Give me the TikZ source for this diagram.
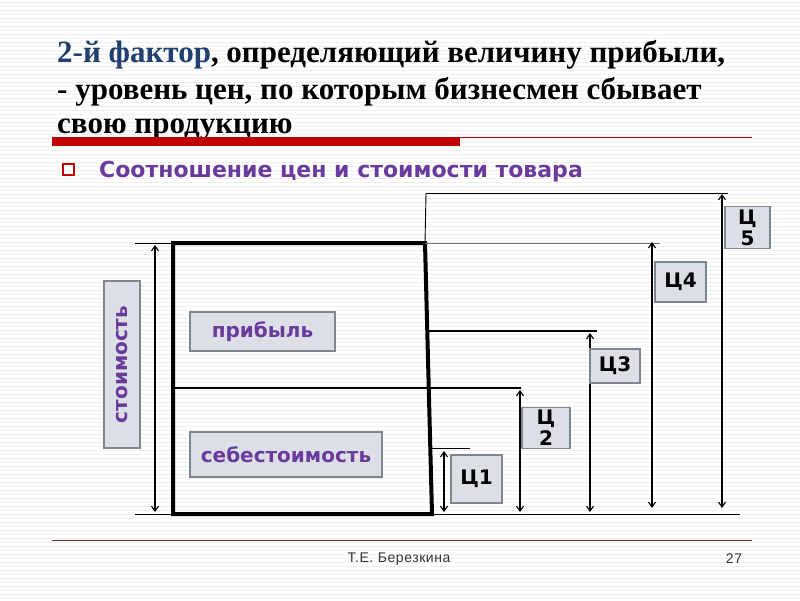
\documentclass[tikz,border=0pt]{standalone}
\usepackage{fontspec}
\setmainfont{Liberation Serif}
\newfontfamily\lbsans{DejaVu Sans}
\newfontfamily\footsans[LetterSpace=4]{Liberation Sans}
\usetikzlibrary{arrows.meta}
\definecolor{titleblue}{HTML}{1F3F6E}
\definecolor{purp}{HTML}{6A3A9C}
\definecolor{boxfill}{HTML}{DCDFE6}
\definecolor{boxline}{HTML}{7F868E}
\definecolor{redbar}{HTML}{C00000}
\definecolor{footline}{HTML}{6B2A2A}
\tikzset{
  titleline/.style={anchor=base west, inner sep=0pt, font=\fontsize{31}{34}\selectfont\bfseries},
  lbl/.style={draw=boxline, line width=1.6pt, fill=boxfill, text=purp, font=\lbsans\fontsize{20}{22}\selectfont\bfseries, inner sep=0pt, align=center},
  cbox/.style={draw=boxline, line width=1.6pt, fill=boxfill, text=black, font=\lbsans\fontsize{20}{21}\selectfont\bfseries, inner sep=0pt, align=center},
  dim/.style={line width=1.1pt, {Straight Barb[length=5pt,width=7pt]}-{Straight Barb[length=5pt,width=7pt]}},
  thin/.style={line width=0.9pt},
}
\begin{document}
\begin{tikzpicture}[x=1pt,y=-1pt]
\useasboundingbox (0,0) rectangle (800,600);
\fill[white] (0,0) rectangle (800,600);
\foreach \yy in {2,6,...,598} {\draw[black!6, line width=0.6pt] (0,\yy) -- (800,\yy);}
% title
\node[titleline] (t1) at (57,62) {\textcolor{titleblue}{2-й фактор}, определяющий величину прибыли,};
\node[titleline] (t2) at (57,99) {- уровень цен, по которым бизнесмен сбывает};
\node[titleline] (t3) at (57,133) {свою продукцию};
% red rule
\fill[redbar] (52,137) rectangle (460,146);
\draw[redbar, line width=0.8pt] (460,137.5) -- (752,137.5);
% bullet
\draw[redbar, line width=1.2pt] (63,164) rectangle (74,175) node[coordinate] (bul) {};
\node[anchor=west, inner sep=0pt, text=purp, font=\lbsans\fontsize{22}{24}\selectfont\bfseries] (sub) at (99,172) {Соотношение цен и стоимости товара};
% main frame
\coordinate (tl) at (173,243);
\coordinate (tr) at (425,243);
\coordinate (br) at (432,514);
\coordinate (bl) at (173,514);
\draw[line width=4pt] (tl) -- (tr) -- (br) -- (bl) -- cycle;
\coordinate (ml) at (173,388);
\coordinate (mr) at (432,388);
\draw[line width=2.5pt] (ml) -- (mr);
% right thin vertical
\coordinate (v5) at (426,193);
\draw[thin] (v5) -- (tr);
% level lines
\coordinate (l5e) at (728,193);
\draw[thin] (v5) -- (l5e);
\coordinate (l4e) at (660,243);
\draw[black!55, line width=0.8pt] (tr) -- (l4e);
\coordinate (l3s) at (428,331);
\coordinate (l3e) at (597,331);
\draw[line width=1.8pt] (l3s) -- (l3e);
\coordinate (l2e) at (521,388);
\draw[line width=1.8pt] (mr) -- (l2e);
\coordinate (l1s) at (431,448);
\coordinate (l1e) at (470,448);
\draw[thin] (l1s) -- (l1e);
% baseline and left extensions
\coordinate (bL) at (135,514);
\coordinate (bR) at (740,514);
\draw[thin] (bL) -- (bR);
\coordinate (tL) at (135,243);
\draw[thin] (tL) -- (tl);
% dimension arrows
\coordinate (s1) at (155,245); \coordinate (s2) at (155,512);
\draw[dim] (s1) -- (s2);
\coordinate (a1) at (444,451); \coordinate (b1) at (444,512);
\draw[dim] (a1) -- (b1);
\coordinate (a2) at (520,390); \coordinate (b2) at (520,512);
\draw[dim] (a2) -- (b2);
\coordinate (a3) at (590,333); \coordinate (b3) at (590,512);
\draw[dim] (a3) -- (b3);
\coordinate (a4) at (652,242); \coordinate (b4) at (652,508);
\draw[dim] (a4) -- (b4);
\coordinate (a5) at (722,194); \coordinate (b5) at (722,508);
\draw[dim] (a5) -- (b5);
% labels
\node[lbl, minimum width=36pt, minimum height=167pt] (cost) at (122,364.5) {};
\node[text=purp, font=\lbsans\fontsize{20}{22}\selectfont\bfseries, rotate=90, inner sep=0pt] (costt) at (cost.center) {стоимость};
\node[lbl, minimum width=145pt, minimum height=39pt] (prof) at (262.5,331.5) {прибыль};
\node[lbl, minimum width=192pt, minimum height=45pt] (seb) at (286,454.5) {себестоимость};
\node[cbox, minimum width=51pt, minimum height=48pt] (c1) at (476.5,479) {Ц1};
\node[cbox, minimum width=48pt, minimum height=41pt] (c2) at (546,428) {Ц\\2};
\node[cbox, minimum width=50pt, minimum height=34pt] (c3) at (615,366) {Ц3};
\node[cbox, minimum width=51pt, minimum height=40pt] (c4) at (680.5,282) {Ц4};
\node[cbox, minimum width=45pt, minimum height=42pt] (c5) at (747.5,227.5) {Ц\\5};
% footer
\coordinate (f1) at (52,540); \coordinate (f2) at (752,540);
\draw[footline, line width=0.8pt] (f1) -- (f2);
\node[font=\footsans\fontsize{14}{16}\selectfont, text=black!80, inner sep=0pt] (auth) at (399,559) {Т.Е. Березкина};
\node[font=\footsans\fontsize{14}{16}\selectfont, text=black!80, inner sep=0pt] (pg) at (734,559) {27};
\end{tikzpicture}
\end{document}
